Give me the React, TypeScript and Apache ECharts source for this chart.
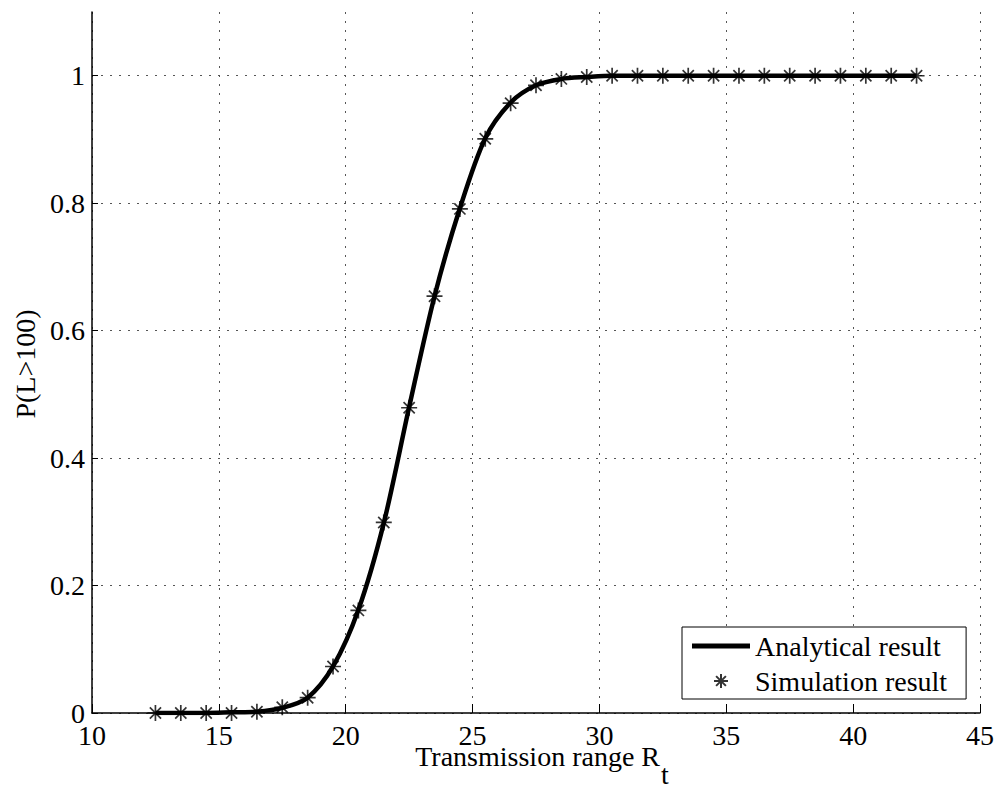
import React, { useEffect, useRef } from "react";
import * as echarts from "echarts";

// Transmission range R_t (x positions of the samples)
const rangeValues = [
  12.5, 13.5, 14.5, 15.5, 16.5, 17.5, 18.5, 19.5, 20.5, 21.5, 22.5, 23.5, 24.5,
  25.5, 26.5, 27.5, 28.5, 29.5, 30.5, 31.5, 32.5, 33.5, 34.5, 35.5, 36.5, 37.5,
  38.5, 39.5, 40.5, 41.5, 42.5,
];
// Analytical result (curve)
const analyticalValues = [
  0, 0, 0, 0.001, 0.002, 0.008, 0.024, 0.073, 0.162, 0.298, 0.48, 0.654, 0.792,
  0.902, 0.958, 0.985, 0.995, 0.998, 1, 1, 1, 1, 1, 1, 1, 1, 1, 1, 1, 1, 1,
];
// Simulation result (markers)
const simulationValues = [
  0, 0, 0, 0, 0.002, 0.009, 0.024, 0.073, 0.161, 0.299, 0.479, 0.654, 0.791,
  0.901, 0.957, 0.985, 0.995, 0.998, 1, 1, 1, 1, 1, 1, 1, 1, 1, 1, 1, 1, 1,
];
const yTickValues = [0, 0.2, 0.4, 0.6, 0.8, 1];

const FONT = "Times New Roman, Liberation Serif, DejaVu Serif, serif";
const STAR = "path://M10,0 L10,20 M0,10 L20,10 M3,3 L17,17 M3,17 L17,3";
const LINE_ICON = "path://M0,0 L60,0 L60,5 L0,5 Z";

export default function App() {
  const ref = useRef<HTMLDivElement>(null);
  useEffect(() => {
    if (!ref.current) return;
    const chart = echarts.init(ref.current, undefined, { renderer: "svg" });
    const lineData = rangeValues.map((x, i) => [x, analyticalValues[i]]);
    const simData = rangeValues.map((x, i) => [x, simulationValues[i]]);
    const gridLine = { show: true, lineStyle: { color: "#555", width: 1, type: [2, 7] } };
    const txt = { fill: "#000", fontFamily: FONT, fontSize: 28, lineHeight: 20 };
    chart.setOption({
      animation: false,
      backgroundColor: "#fff",
      grid: { left: 92, right: 21, top: 12, bottom: 80 },
      xAxis: {
        type: "value",
        min: 10,
        max: 45,
        interval: 5,
        axisLine: { show: true, onZero: false, lineStyle: { color: "#000", width: 1.5 } },
        axisTick: { show: true, inside: true, length: 9, lineStyle: { color: "#000", width: 1 } },
        axisLabel: { color: "#000", fontFamily: FONT, fontSize: 28, lineHeight: 20, margin: 12 },
        splitLine: gridLine,
      },
      yAxis: {
        type: "value",
        min: 0,
        max: 1.1,
        interval: 0.2,
        axisLine: { show: true, lineStyle: { color: "#000", width: 1.5 } },
        axisTick: {
          show: true,
          inside: true,
          length: 6,
          customValues: yTickValues,
          lineStyle: { color: "#000", width: 1 },
        },
        axisLabel: {
          color: "#000",
          fontFamily: FONT,
          fontSize: 28,
          lineHeight: 20,
          margin: 7,
          customValues: yTickValues,
          formatter: (v: number) => (v > 1.05 ? "" : String(+v.toFixed(1))),
        },
        splitLine: {
          show: true,
          lineStyle: {
            color: ["#555", "#555", "#555", "#555", "#555", "#555", "transparent"],
            width: 1,
            type: [2, 7],
          },
        },
      },
      legend: {
        orient: "vertical",
        left: 682,
        top: 627,
        padding: [5, 19, 4, 10],
        itemGap: 7,
        itemWidth: 58,
        itemHeight: 14,
        backgroundColor: "#fff",
        borderColor: "#000",
        borderWidth: 1,
        borderRadius: 0,
        textStyle: { color: "#000", fontFamily: FONT, fontSize: 28 },
        data: [
          { name: "Analytical result", icon: LINE_ICON, itemStyle: { color: "#000", borderWidth: 0 } },
          { name: "Simulation result" },
        ],
      },
      graphic: [
        {
          type: "text",
          x: 25,
          y: 364,
          rotation: Math.PI / 2,
          style: { ...txt, text: "P(L>100)", align: "center", verticalAlign: "middle" },
        },
        {
          type: "text",
          x: 660,
          y: 756,
          style: { ...txt, text: "Transmission range R", align: "right", verticalAlign: "middle" },
        },
        {
          type: "text",
          x: 661,
          y: 774,
          style: { ...txt, text: "t", align: "left", verticalAlign: "middle" },
        },
      ],
      series: [
        {
          name: "Analytical result",
          type: "line",
          data: lineData,
          smooth: 0.3,
          symbol: "none",
          showSymbol: false,
          lineStyle: { color: "#000", width: 4.5 },
          itemStyle: { color: "#000" },
          z: 2,
        },
        {
          name: "Simulation result",
          type: "scatter",
          data: simData,
          symbol: STAR,
          symbolSize: 16,
          itemStyle: { color: "#000", borderColor: "#000", borderWidth: 1.7 },
          z: 3,
        },
      ],
    });
    return () => chart.dispose();
  }, []);
  return (
    <div
      ref={ref}
      style={{ position: "absolute", left: 0, top: 0, width: 1001, height: 793, background: "#fff" }}
    />
  );
}
